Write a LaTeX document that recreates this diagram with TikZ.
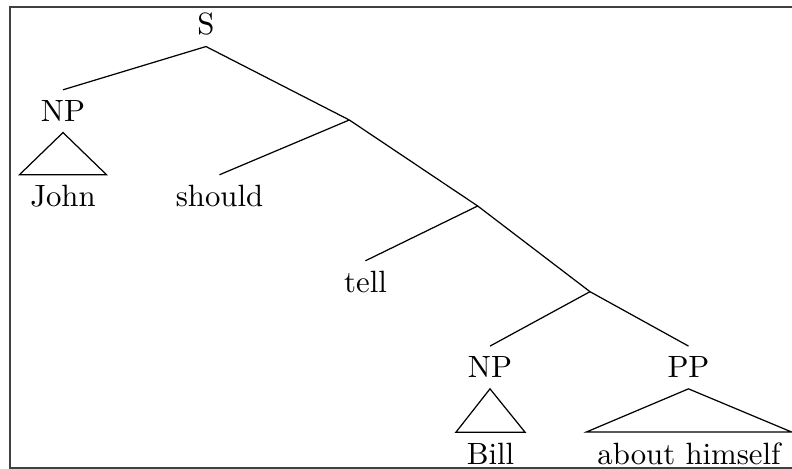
\documentclass[tikz,border=0pt]{standalone}
\usepackage{tikz}
\begin{document}
\begin{tikzpicture}[
        x=0.325pt, y=-0.325pt,
        cat/.style={anchor=base},
        branch/.style={draw=black, line width=0.4pt},
        roof/.style={draw=black, line width=0.4pt},
        frame/.style={draw=black!75, line width=0.6pt}
    ]
        \clip (0,0) rectangle (792,469);
        \draw[frame] (10,7.3) rectangle (820,468);

        \node[cat] (s) at (206,35) {S};
        \node[cat] (np1) at (63,121.7) {NP};
        \node[cat] (john) at (63,207) {John};
        \node[cat] (should) at (219.5,207) {should};
        \node[cat] (tell) at (365.5,293) {tell};
        \node[cat] (np2) at (490,378) {NP};
        \node[cat] (pp) at (688.5,378) {PP};
        \node[cat] (bill) at (490.5,464.5) {Bill};
        \node[cat] (himself) at (689,464.5) {about himself};

        \coordinate (vp1) at (349.3,120);
        \coordinate (vp2) at (477.7,206);
        \coordinate (vp3) at (590,291.7);

        \draw[branch] (s.south) -- (np1.north);
        \draw[branch] (s.south) -- (vp1);
        \draw[branch] (vp1) -- (should.north);
        \draw[branch] (vp1) -- (vp2);
        \draw[branch] (vp2) -- (tell.north);
        \draw[branch] (vp2) -- (vp3);
        \draw[branch] (vp3) -- (np2.north);
        \draw[branch] (vp3) -- (pp.north);

        \draw[roof] (np1.south) -- (john.north west) -- (john.north east) -- cycle;
        \draw[roof] (np2.south) -- (bill.north west) -- (bill.north east) -- cycle;
        \draw[roof] (pp.south) -- (himself.north west) -- (himself.north east) -- cycle;
    \end{tikzpicture}
\end{document}
